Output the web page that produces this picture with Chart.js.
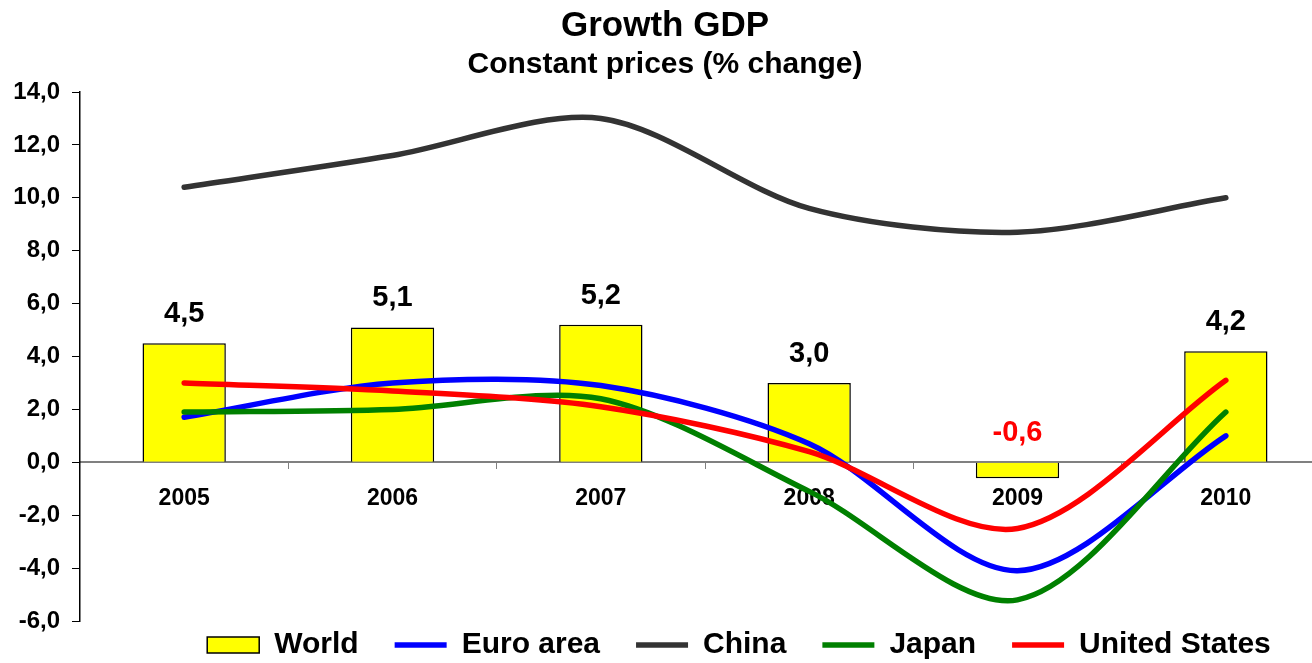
<!DOCTYPE html>
<html>
<head>
<meta charset="utf-8">
<title>Growth GDP</title>
<script src="https://cdn.jsdelivr.net/npm/chart.js@4/dist/chart.umd.min.js"></script>
<style>
  html, body { margin: 0; padding: 0; background: #fff; overflow: hidden; }
  #wrap { width: 1340px; height: 663px; position: relative; }
</style>
</head>
<body>
<div id="wrap"><canvas id="chart"></canvas></div>
<script>
// values (% change, constant prices)
const years = ['2005', '2006', '2007', '2008', '2009', '2010'];
const world = [4.5, 5.1, 5.2, 3.0, -0.6, 4.2];
const euroArea = [1.7, 3.0, 2.9, 0.7, -4.1, 1.0];
const china = [10.4, 11.6, 13.0, 9.6, 8.7, 10.0];
const japan = [1.9, 2.0, 2.4, -1.1, -5.2, 1.9];
const unitedStates = [3.0, 2.7, 2.1, 0.4, -2.5, 3.1];
const yTicks = { min: -6, max: 14, step: 2 };

const FONT = "'Liberation Sans', Arial, sans-serif";
const comma = v => Number(v).toFixed(1).replace('.', ',');

// value labels above the World bars (no datalabels plugin available offline)
const barLabels = {
  id: 'barLabels',
  afterDatasetsDraw(chart) {
    const meta = chart.getDatasetMeta(0);
    const yScale = chart.scales.y;
    const ctx = chart.ctx;
    ctx.save();
    ctx.font = 'bold 29px ' + FONT;
    ctx.textAlign = 'center';
    ctx.textBaseline = 'alphabetic';
    meta.data.forEach((bar, i) => {
      const v = world[i];
      ctx.fillStyle = v < 0 ? '#ff0000' : '#000';
      ctx.fillText(comma(v), bar.x, yScale.getPixelForValue(Math.max(v, 0)) - 21);
    });
    ctx.restore();
  }
};

// nudge the legend to where the original sits (legend clips to its own box)
const legendShift = {
  id: 'legendShift',
  afterLayout(chart) {
    const lg = chart.legend;
    lg.left += 74; lg.right += 74;
    lg.top -= 27;
    lg.bottom = chart.height;
  }
};

const lineDs = (label, data, color, order) => ({
  type: 'line',
  label: label,
  data: data,
  borderColor: color,
  backgroundColor: color,
  borderWidth: 5.5,
  borderCapStyle: 'round',
  pointRadius: 0,
  pointHoverRadius: 0,
  pointStyle: 'line',
  tension: 0.3,
  fill: false,
  order: order
});

new Chart(document.getElementById('chart'), {
  type: 'bar',
  data: {
    labels: years,
    datasets: [
      {
        label: 'World',
        data: world,
        backgroundColor: '#ffff00',
        borderColor: '#000',
        borderWidth: 1.5,
        pointStyle: 'rect',
        barPercentage: 0.4,
        categoryPercentage: 1,
        order: 10
      },
      lineDs('Euro area', euroArea, '#0000ff', 4),
      lineDs('China', china, '#333333', 3),
      lineDs('Japan', japan, '#008000', 2),
      lineDs('United States', unitedStates, '#ff0000', 1)
    ]
  },
  options: {
    responsive: true,
    maintainAspectRatio: false,
    animation: false,
    layout: { padding: { left: 0, right: 10, top: 0, bottom: 0 } },
    plugins: {
      title: {
        display: true,
        text: 'Growth GDP',
        color: '#000',
        font: { family: FONT, size: 35, weight: 'bold' },
        padding: { top: 5, bottom: 0 }
      },
      subtitle: {
        display: true,
        text: 'Constant prices (% change)',
        color: '#000',
        font: { family: FONT, size: 30, weight: 'bold' },
        padding: { top: 0, bottom: 9 }
      },
      legend: {
        position: 'bottom',
        maxHeight: 42,
        labels: {
          usePointStyle: true,
          pointStyleWidth: 52,
          boxHeight: 16,
          padding: 36,
          color: '#000',
          font: { family: FONT, size: 30, weight: 'bold' },
          sort: (a, b) => a.datasetIndex - b.datasetIndex
        }
      },
      tooltip: { enabled: false }
    },
    scales: {
      x: {
        position: { y: 0 },
        offset: true,
        grid: {
          offset: true,
          drawOnChartArea: false,
          drawTicks: true,
          tickLength: 6,
          tickColor: '#808080'
        },
        border: { display: true, color: '#808080', width: 2 },
        ticks: {
          color: '#000',
          padding: 17,
          font: { family: FONT, size: 23, weight: 'bold' }
        }
      },
      y: {
        min: yTicks.min,
        max: yTicks.max,
        afterFit(scale) { scale.width = 80; },
        grid: {
          drawOnChartArea: false,
          drawTicks: true,
          tickLength: 8,
          tickColor: '#000'
        },
        border: { display: true, color: '#000', width: 1.5 },
        ticks: {
          stepSize: yTicks.step,
          padding: 12,
          color: '#000',
          font: { family: FONT, size: 24, weight: 'bold' },
          callback: v => comma(v)
        }
      }
    }
  },
  plugins: [barLabels, legendShift]
});
</script>
</body>
</html>
